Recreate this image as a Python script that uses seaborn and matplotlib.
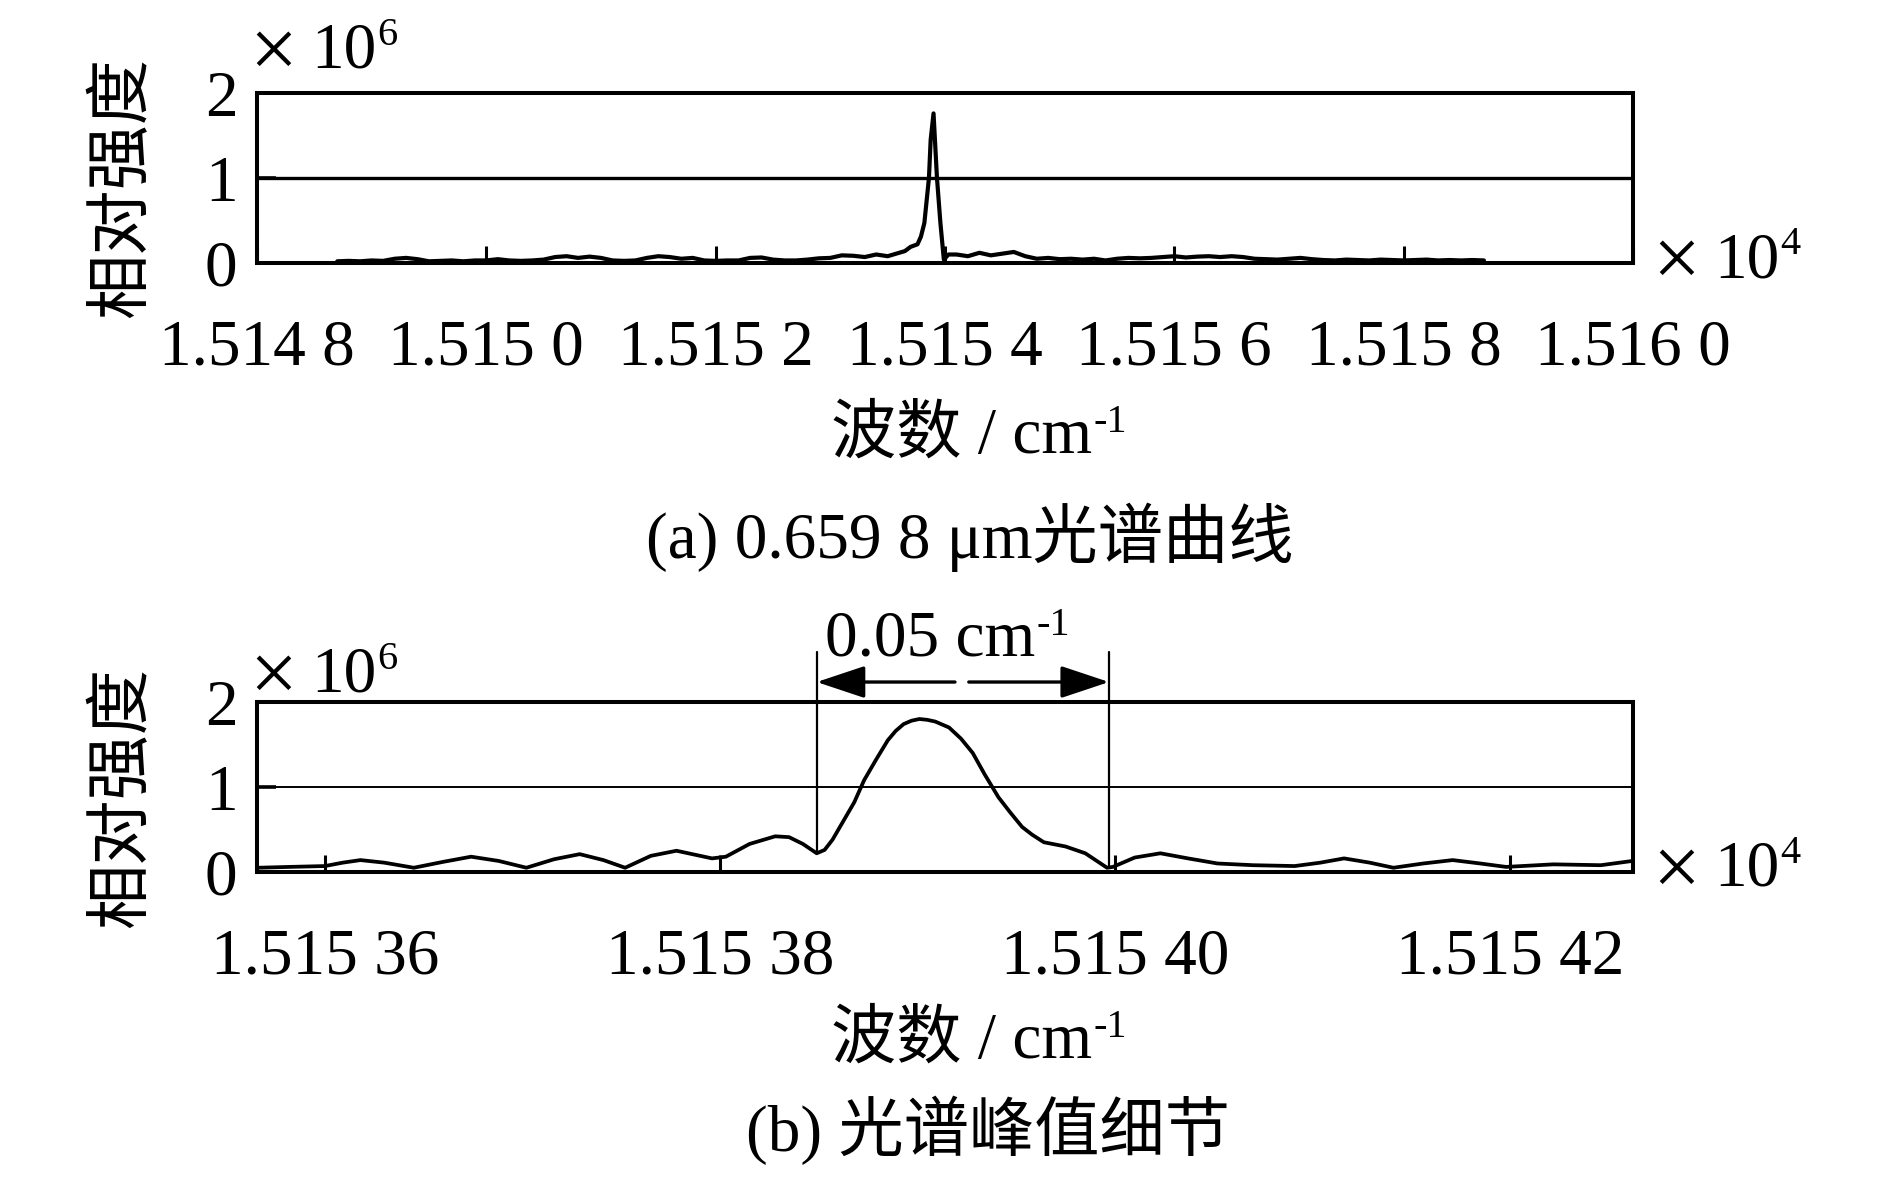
import numpy as np
import pandas as pd
import matplotlib
matplotlib.use('Agg')
import matplotlib.pyplot as plt
import seaborn as sns

# (a) whole spectrum, wavenumber in cm^-1, intensity in 1e6
wn_full = [15148.7, 15148.8, 15148.9, 15149.0, 15149.1, 15149.2, 15149.3, 15149.4, 15149.5, 15149.6,
           15149.7, 15149.8, 15149.9, 15150.0, 15150.1, 15150.2, 15150.3, 15150.4, 15150.5, 15150.6,
           15150.7, 15150.8, 15150.9, 15151.0, 15151.1, 15151.2, 15151.3, 15151.4, 15151.5, 15151.6,
           15151.7, 15151.8, 15151.9, 15152.0, 15152.1, 15152.2, 15152.3, 15152.4, 15152.5, 15152.6,
           15152.7, 15152.8, 15152.9, 15153.0, 15153.1, 15153.2, 15153.3, 15153.4, 15153.5, 15153.6,
           15153.65, 15153.70, 15153.76, 15153.79, 15153.82, 15153.86, 15153.875, 15153.90, 15153.93,
           15153.96, 15153.99, 15154.03,
           15154.1, 15154.2, 15154.3, 15154.4, 15154.5, 15154.6, 15154.7, 15154.8, 15154.9, 15155.0,
           15155.1, 15155.2, 15155.3, 15155.4, 15155.5, 15155.6, 15155.7, 15155.8, 15155.9, 15156.0,
           15156.1, 15156.2, 15156.3, 15156.4, 15156.5, 15156.6, 15156.7, 15156.8, 15156.9, 15157.0,
           15157.1, 15157.2, 15157.3, 15157.4, 15157.5, 15157.6, 15157.7, 15157.8, 15157.9, 15158.0,
           15158.1, 15158.2, 15158.3, 15158.4, 15158.5, 15158.6, 15158.7]
int_full = [0.02, 0.025, 0.02, 0.03, 0.025, 0.05, 0.06, 0.045, 0.02, 0.025,
            0.03, 0.02, 0.03, 0.03, 0.045, 0.03, 0.025, 0.03, 0.04, 0.07,
            0.08, 0.06, 0.075, 0.06, 0.03, 0.025, 0.03, 0.06, 0.08, 0.07,
            0.05, 0.06, 0.03, 0.025, 0.03, 0.03, 0.06, 0.065, 0.04, 0.03,
            0.03, 0.04, 0.055, 0.06, 0.09, 0.085, 0.07, 0.1, 0.08, 0.12,
            0.14, 0.19, 0.22, 0.31, 0.47, 1.0, 1.45, 1.76, 1.0,
            0.47, 0.04, 0.1,
            0.1, 0.08, 0.12, 0.09, 0.11, 0.13, 0.08, 0.05, 0.06, 0.045,
            0.05, 0.04, 0.05, 0.03, 0.05, 0.06, 0.055, 0.06, 0.07, 0.08,
            0.065, 0.075, 0.08, 0.07, 0.08, 0.07, 0.05, 0.045, 0.04, 0.05,
            0.06, 0.045, 0.035, 0.03, 0.04, 0.035, 0.03, 0.04, 0.035, 0.03,
            0.035, 0.04, 0.03, 0.035, 0.03, 0.035, 0.03]

# (b) detail around the peak
wn_peak = [15153.566, 15153.582, 15153.600, 15153.609, 15153.618, 15153.630, 15153.645, 15153.660,
           15153.674, 15153.688, 15153.702, 15153.716, 15153.729, 15153.741, 15153.752, 15153.765,
           15153.778, 15153.788, 15153.796, 15153.803, 15153.815, 15153.828, 15153.835, 15153.842,
           15153.849, 15153.853, 15153.857, 15153.862, 15153.868, 15153.873, 15153.879, 15153.885,
           15153.889, 15153.893, 15153.897, 15153.901, 15153.905, 15153.909, 15153.912, 15153.916,
           15153.922, 15153.928, 15153.934, 15153.941, 15153.947, 15153.953, 15153.958, 15153.964,
           15153.975, 15153.985, 15153.996, 15153.999, 15154.010, 15154.023, 15154.037, 15154.052,
           15154.070, 15154.091, 15154.104, 15154.116, 15154.129, 15154.141, 15154.156, 15154.171,
           15154.185, 15154.198, 15154.222, 15154.246, 15154.262]
int_peak = [0.05, 0.06, 0.07, 0.11, 0.14, 0.11, 0.05, 0.12,
            0.18, 0.13, 0.05, 0.15, 0.21, 0.14, 0.05, 0.19,
            0.25, 0.20, 0.16, 0.18, 0.33, 0.42, 0.41, 0.33,
            0.22, 0.26, 0.38, 0.58, 0.82, 1.08, 1.32, 1.55,
            1.66, 1.74, 1.78, 1.80, 1.79, 1.77, 1.74, 1.70,
            1.57, 1.40, 1.15, 0.88, 0.70, 0.53, 0.44, 0.35,
            0.30, 0.22, 0.05, 0.06, 0.17, 0.22, 0.16, 0.10,
            0.08, 0.07, 0.11, 0.16, 0.11, 0.05, 0.10, 0.14,
            0.10, 0.06, 0.09, 0.08, 0.13]

ticks_a = [15148, 15150, 15152, 15154, 15156, 15158, 15160]
labels_a = ['1.514 8', '1.515 0', '1.515 2', '1.515 4', '1.515 6', '1.515 8', '1.516 0']
ticks_b = [15153.6, 15153.8, 15154.0, 15154.2]
labels_b = ['1.515 36', '1.515 38', '1.515 40', '1.515 42']
yticks = [0, 1, 2]

# width markers in (b)
mark_x = [15153.849, 15153.997]
mark_y = [0.22, 0.05]
mark_top = 2.59
arrow_y = 2.235
arrow_gap = [15153.919, 15153.926]

sns.set_theme(style='white', rc={'axes.edgecolor': 'black', 'text.color': 'black',
                                 'xtick.color': 'black', 'ytick.color': 'black'})
plt.rcParams['font.family'] = ['Liberation Serif', 'Noto Sans CJK SC']
FS = 47
SUP = 29
W, H = 1890, 1181

fig = plt.figure(figsize=(18.9, 11.81), dpi=100)
ax_a = fig.add_axes([257 / W, 1 - 263 / H, 1376 / W, 170 / H])
ax_b = fig.add_axes([257 / W, 1 - 872 / H, 1376 / W, 170 / H])

df_a = pd.DataFrame({'wn': wn_full, 'inten': int_full})
df_b = pd.DataFrame({'wn': wn_peak, 'inten': int_peak})
sns.lineplot(data=df_a, x='wn', y='inten', ax=ax_a, color='black', lw=3.0, estimator=None)
sns.lineplot(data=df_b, x='wn', y='inten', ax=ax_b, color='black', lw=2.7, estimator=None)


def style_axes(ax, xticks, xlabels, xlim, grid_lw):
    ax.set_xlim(xlim)
    ax.set_ylim(0, 2)
    ax.set_xticks(xticks)
    ax.set_xticklabels(xlabels)
    ax.set_yticks(yticks)
    ax.set_yticklabels([str(v) for v in yticks])
    ax.tick_params(axis='x', direction='in', length=12, width=2.2, pad=40, labelsize=FS,
                   bottom=True, top=False)
    ax.tick_params(axis='y', direction='in', length=14, width=2.6, pad=14, labelsize=FS,
                   left=True, right=False)
    for sp in ax.spines.values():
        sp.set_visible(True)
        sp.set_linewidth(2.9)
        sp.set_color('black')
    ax.axhline(1, color='black', lw=grid_lw, zorder=1)
    ax.set_xlabel('')
    ax.set_ylabel('')


style_axes(ax_a, ticks_a, labels_a, (15148, 15160), 2.4)
style_axes(ax_b, ticks_b, labels_b, (15153.5656, 15154.2623), 1.4)


def sup_text(x, y, main, sup, ha='left', dy=1):
    t = fig.text(x / W, 1 - y / H, main, fontsize=FS, ha=ha, va='baseline')
    ax_a.annotate(sup, xy=(1, 1), xycoords=t, xytext=(1, dy), textcoords='offset points',
                  fontsize=SUP, ha='left', va='top', annotation_clip=False)
    return t


def times_ten(x, y, power):
    # big multiplication sign, then 10 with the power as superscript
    fig.text((x - 6) / W, 1 - (y + 9) / H, '×', fontsize=FS * 1.3, ha='left', va='baseline')
    sup_text(x + 56, y, '10', power, dy=4)


# multipliers
times_ten(255, 68, '6')
times_ten(255, 692, '6')
times_ten(1658, 277, '4')
times_ten(1658, 886, '4')

# axis labels and captions
for yc in [188, 797]:
    fig.text(124 / W, 1 - yc / H, '相对强度', fontsize=FS, rotation=90, ha='center', va='center')
sup_text(962, 453, '波数 / cm', '-1', ha='center', dy=2)
sup_text(962, 1058, '波数 / cm', '-1', ha='center', dy=2)
fig.text(970 / W, 1 - 558 / H, '(a) 0.659 8 μm光谱曲线', fontsize=FS, ha='center', va='baseline')
fig.text(988 / W, 1 - 1151 / H, '(b) 光谱峰值细节', fontsize=FS, ha='center', va='baseline')

# 0.05 cm^-1 width marker
for xm, ym in zip(mark_x, mark_y):
    ax_b.plot([xm, xm], [ym, mark_top], color='black', lw=1.6, clip_on=False)
for xm, xg in zip(mark_x, arrow_gap):
    ax_b.annotate('', xy=(xm, arrow_y), xytext=(xg, arrow_y),
                  arrowprops=dict(arrowstyle='-|>,head_length=1.5,head_width=0.5', mutation_scale=20,
                                  color='black', lw=2.4, shrinkA=0, shrinkB=0),
                  annotation_clip=False)
sup_text(930, 655, '0.05 cm', '-1', ha='center', dy=2)

fig.savefig('out.png', dpi=100)
